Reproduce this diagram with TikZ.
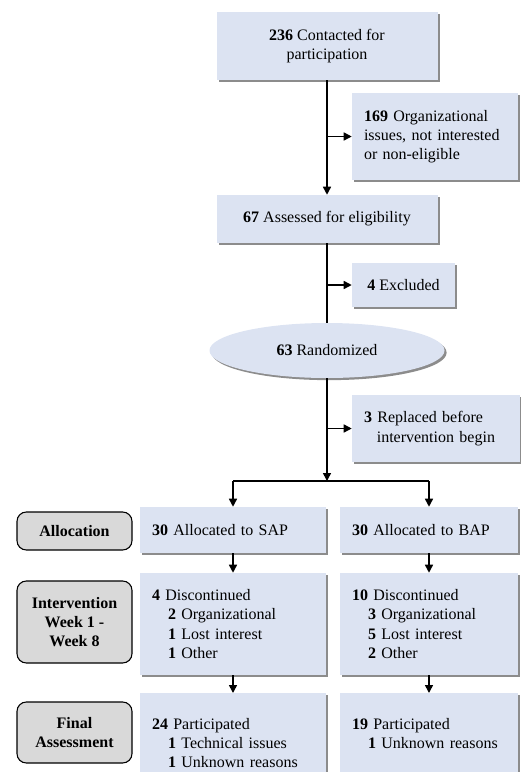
\documentclass[tikz,border=0pt]{standalone}
\usepackage{fontspec}
\setmainfont{Liberation Serif}
\usetikzlibrary{positioning, shapes.geometric, shadows, arrows.meta}
\definecolor{boxblue}{RGB}{220,227,242}
\definecolor{labelgray}{RGB}{217,217,217}

\begin{document}
\begin{tikzpicture}[x=0.75pt, y=-0.75pt,
    font=\fontsize{12}{14.4}\selectfont,
    >={Triangle[length=6pt,width=6pt]},
    flow/.style={draw, ->, line width=1.1pt},
    link/.style={draw, line width=1.1pt},
    stagebox/.style={fill=boxblue, inner sep=0pt,
        drop shadow={shadow xshift=1.6pt, shadow yshift=-1.6pt, fill=black!45, opacity=1}},
    centerbox/.style={stagebox, align=center},
    leftbox/.style={stagebox, align=left, inner xsep=9pt},
    phase/.style={draw, line width=0.8pt, rounded corners=7pt, fill=labelgray,
        font=\fontsize{12}{14.4}\selectfont\bfseries, align=center, minimum width=86.25pt}]
\useasboundingbox (0,0) rectangle (521,772);

% enrolment
\node[centerbox, minimum width=165.75pt, minimum height=51pt] (contact) at (327,46) {\textbf{236} Contacted for\\participation};
\node[leftbox, text width=106.5pt, minimum height=65.25pt] (noteligible) at (435,136.5) {\textbf{169} Organizational\\issues, not interested\\or non-eligible};
\node[centerbox, minimum width=165.75pt, minimum height=36pt] (assessed) at (327,219) {\textbf{67} Assessed for eligibility};
\node[centerbox, minimum width=77.25pt, minimum height=33pt] (excluded) at (403.5,285) {\textbf{4} Excluded};
\node[stagebox, ellipse, minimum width=176.25pt, minimum height=41.25pt] (randomized) at (327,350.5) {\textbf{63} Randomized};
\node[leftbox, text width=108pt, minimum height=50.25pt] (replaced) at (436,428.5) {\textbf{3} Replaced before\\\hspace*{0.8em}intervention begin};
\coordinate (split) at (327,481);

% two arms
\node[leftbox, text width=121.5pt, minimum height=34.5pt] (sap) at (233,530) {\textbf{30} Allocated to SAP};
\node[leftbox, text width=115.5pt, minimum height=34.5pt] (bap) at (429,530) {\textbf{30} Allocated to BAP};
\node[leftbox, text width=121.5pt, minimum height=76.5pt] (sapdrop) at (233,624) {\textbf{4} Discontinued\\\hspace*{1em}\textbf{2} Organizational\\\hspace*{1em}\textbf{1} Lost interest\\\hspace*{1em}\textbf{1} Other};
\node[leftbox, text width=115.5pt, minimum height=76.5pt] (bapdrop) at (429,624) {\textbf{10} Discontinued\\\hspace*{1em}\textbf{3} Organizational\\\hspace*{1em}\textbf{5} Lost interest\\\hspace*{1em}\textbf{2} Other};
\node[leftbox, text width=121.5pt, minimum height=75pt, anchor=north] (sapfinal) at (233,693) {\textbf{24} Participated\\\hspace*{1em}\textbf{1} Technical issues\\\hspace*{1em}\textbf{1} Unknown reasons};
\node[leftbox, text width=115.5pt, minimum height=75pt, anchor=north] (bapfinal) at (429,693) {\textbf{19} Participated\\\hspace*{1em}\textbf{1} Unknown reasons\\\mbox{}};

% phase labels
\node[phase, minimum height=28.5pt] (allocation) at (74.5,531) {Allocation};
\node[phase, minimum height=61.5pt] (intervention) at (74.5,622) {Intervention\\Week 1 -\\Week 8};
\node[phase, minimum height=45.75pt] (final) at (74.5,732.5) {Final\\Assessment};

% connectors
\draw[flow] (contact) -- (assessed);
\draw[flow] (contact.south |- noteligible.west) -- (noteligible.west);
\draw[link] (assessed) -- (randomized);
\draw[flow] (assessed.south |- excluded.west) -- (excluded.west);
\draw[flow] (randomized) -- (split);
\draw[flow] (randomized.south |- replaced.west) -- (replaced.west);
\draw[link] (sap.north |- split) -- (bap.north |- split);
\draw[flow] (sap.north |- split) -- (sap);
\draw[flow] (bap.north |- split) -- (bap);
\draw[flow] (sap) -- (sapdrop);
\draw[flow] (bap) -- (bapdrop);
\draw[flow] (sapdrop) -- (sapfinal);
\draw[flow] (bapdrop) -- (bapfinal);
\end{tikzpicture}
\end{document}
